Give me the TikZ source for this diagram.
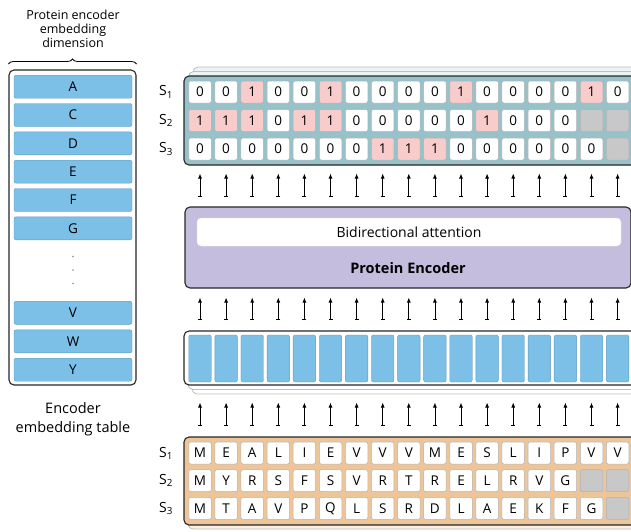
\documentclass[tikz,border=0pt]{standalone}
\usepackage{fontspec}
\setmainfont{Open Sans}
\usetikzlibrary{arrows.meta,positioning,decorations.pathreplacing}

\definecolor{outfill}{RGB}{152,194,202}
\definecolor{hitpink}{RGB}{249,204,204}
\definecolor{padgray}{RGB}{200,200,200}
\definecolor{encfill}{RGB}{197,189,222}
\definecolor{embblue}{RGB}{124,192,232}
\definecolor{seqfill}{RGB}{237,197,152}

\tikzset{
  frame/.style={draw=black!85, line width=1.1pt, rounded corners=5pt, inner sep=0pt},
  layer/.style={draw=black!25, line width=0.8pt, rounded corners=5pt},
  cell/.style={draw=black!30, line width=0.5pt, rounded corners=2pt, fill=white,
    minimum width=22.5pt, minimum height=22pt, inner sep=0pt,
    font=\fontsize{13.5}{15}\selectfont},
  v0/.style={fill=white},
  v1/.style={fill=hitpink},
  pad/.style={fill=padgray},
  embrow/.style={draw=embblue!80!black, line width=0.4pt, fill=embblue, rounded corners=2pt,
    minimum width=118pt, minimum height=23pt, inner sep=0pt, font=\fontsize{13.5}{15}\selectfont},
  seqname/.style={font=\fontsize{14}{16}\selectfont},
  arr/.style={{Bar[width=4pt,line width=0.6pt]}-{Latex[length=5pt,width=4pt]}, line width=0.8pt},
}

\begin{document}
\begin{tikzpicture}[x=1pt, y=-1pt]
\useasboundingbox (0,0) rectangle (631,531);

% embedding table on the left
\node[align=center, font=\fontsize{12.5}{14.3}\selectfont] (dimlabel) at (73,29) {Protein encoder\\embedding\\dimension};
\node[frame, fill=white, minimum width=127pt, minimum height=315pt] (table) at (72.5,227.5) {};
\draw[line width=0.8pt, decorate, decoration={brace, amplitude=5pt}]
  (table.north west |- 0,64) -- (table.north east |- 0,64);
\foreach \aa/\y in {A/86.7,C/115,D/143.3,E/171.7,F/200,G/228.3,V/312.8,W/341.3,Y/369.7}
  \node[embrow] (row-\aa) at (73,\y) {\aa};
\foreach \y in {256.5,270,283.5}
  \fill[black!45] (73,\y) circle (0.9pt);
\node[align=center, font=\fontsize{14.5}{19}\selectfont] (tablelabel) at (73,419) {Encoder\\embedding table};

% output predictions
\foreach \s in {2,1}
  \draw[layer, fill=outfill!18] (184+4.5*\s,76-4.5*\s) rectangle (645+4.5*\s,165-4.5*\s);
\node[frame, fill=outfill, minimum width=461pt, minimum height=89pt] (outbox) at (414.5,120.5) {};
\foreach \row [count=\r] in {
  {0,0,1,0,0,1,0,0,0,0,1,0,0,0,0,1,0},
  {1,1,1,0,1,1,0,0,0,0,0,1,0,0,0,-,-},
  {0,0,0,0,0,0,0,1,1,1,0,0,0,0,0,0,-}} {
  \node[seqname] (outname-\r) at (166,63.5+28.5*\r) {S\textsubscript{\r}};
  \foreach \v [count=\k] in \row {
    \if-\v
      \node[cell, pad] (out-\r-\k) at (173.9+26.1*\k,63.5+28.5*\r) {};
    \else
      \node[cell, v\v] (out-\r-\k) at (173.9+26.1*\k,63.5+28.5*\r) {\v};
    \fi
  }
}

% encoder block
\node[frame, fill=encfill, minimum width=446pt, minimum height=81pt] (enc) at (408,247.5) {};
\node[draw=black!10, fill=white, rounded corners=4pt, minimum width=424pt, minimum height=28pt,
  font=\fontsize{14}{16}\selectfont] (attn) at (409,232) {Bidirectional attention};
\node[font=\fontsize{14.5}{16}\selectfont\bfseries] (enclabel) at (408,268.5) {Protein Encoder};

% token embeddings
\foreach \s in {2,1}
  \draw[layer, fill=white] (184+4*\s,331+4.5*\s) rectangle (640+4*\s,385+4.5*\s);
\node[frame, fill=white, minimum width=456pt, minimum height=54pt] (embbox) at (412,358) {};
\foreach \k in {1,...,17}
  \node[embrow, minimum width=22.5pt, minimum height=47pt] (emb-\k) at (173.9+26.1*\k,358.5) {};

% input sequences
\draw[layer, fill=seqfill!25] (188,441) rectangle (645,529);
\node[frame, fill=seqfill, minimum width=461pt, minimum height=88pt] (seqbox) at (414.5,481) {};
\foreach \row [count=\r] in {
  {M,E,A,L,I,E,V,V,V,M,E,S,L,I,P,V,V},
  {M,Y,R,S,F,S,V,R,T,R,E,L,R,V,G,-,-},
  {M,T,A,V,P,Q,L,S,R,D,L,A,E,K,F,G,-}} {
  \node[seqname] (seqname-\r) at (166,425.3+27.7*\r) {S\textsubscript{\r}};
  \foreach \v [count=\k] in \row {
    \if-\v
      \node[cell, pad] (tok-\r-\k) at (173.9+26.1*\k,425.3+27.7*\r) {};
    \else
      \node[cell] (tok-\r-\k) at (173.9+26.1*\k,425.3+27.7*\r) {\v};
    \fi
  }
}

% arrows between the stages
\foreach \k in {1,...,17} {
  \draw[arr, shorten <=11pt, shorten >=17pt] (seqbox.north -| emb-\k) -- (embbox.south -| emb-\k);
  \draw[arr, shorten <=11pt, shorten >=9pt] (embbox.north -| emb-\k) -- (enc.south -| emb-\k);
  \draw[arr, shorten <=10pt, shorten >=8pt] (enc.north -| emb-\k) -- (outbox.south -| emb-\k);
}
\end{tikzpicture}
\end{document}
